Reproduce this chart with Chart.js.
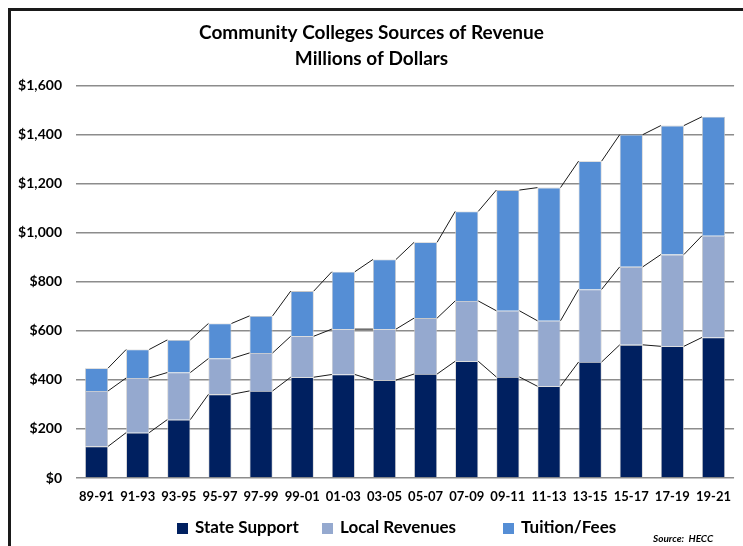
<!DOCTYPE html>
<html>
<head>
<meta charset="utf-8">
<script src="https://cdn.jsdelivr.net/npm/chart.js@4.4.1/dist/chart.umd.min.js"></script>
<style>
  html, body { margin: 0; padding: 0; background: #fff; overflow: hidden; }
  #wrap { position: relative; width: 743px; height: 546px; }
  #frame {
    position: absolute; left: 8px; top: 8px; width: 800px; height: 600px;
    border-left: 3px solid #1a1a1a; border-top: 3px solid #1a1a1a;
    pointer-events: none;
  }
  #chart { position: absolute; left: 0; top: 0; }
  #legend span.item {
    position: absolute; top: 516px; height: 22px; line-height: 22px;
    font: bold 17px Lato, "Liberation Sans", sans-serif; color: #000; white-space: nowrap;
  }
  #legend span.box {
    display: inline-block; width: 11px; height: 11px; margin-right: 7px; vertical-align: -1px;
  }
  #source {
    position: absolute; left: 653px; top: 532px;
    font: italic bold 10px Lato, "Liberation Sans", sans-serif; color: #000;
  }
</style>
</head>
<body>
<div id="wrap">
  <canvas id="chart" width="743" height="546"></canvas>
  <div id="frame"></div>
  <div id="legend"></div>
  <div id="source">Source:&nbsp; HECC</div>
</div>
<script>
// Biennia (fiscal two-year periods)
const biennia = ['89-91', '91-93', '93-95', '95-97', '97-99', '99-01', '01-03', '03-05',
                 '05-07', '07-09', '09-11', '11-13', '13-15', '15-17', '17-19', '19-21'];

// Revenue by source, millions of dollars
const stateSupport  = [129, 185, 238, 341, 355, 411, 422, 399, 424, 476, 412, 374, 473, 543, 537, 573];
const localRevenues = [226, 223, 192, 146, 155, 167, 185, 208, 228, 246, 270, 267, 296, 318, 374, 415];
const tuitionFees   = [ 93, 116, 133, 143, 151, 184, 234, 284, 309, 365, 492, 543, 523, 539, 526, 485];

const yTicks = [0, 200, 400, 600, 800, 1000, 1200, 1400, 1600];

const FONT = 'Lato, "Liberation Sans", sans-serif';

// left edge of each legend entry
const legendLeft = [177, 322, 503];

// Excel-style series lines: join the top of each segment to the same segment of the next bar
const seriesLines = {
  id: 'seriesLines',
  afterDatasetsDraw(chart) {
    const ctx = chart.ctx;
    ctx.save();
    ctx.strokeStyle = '#1a1a1a';
    ctx.lineWidth = 1;
    chart.data.datasets.forEach((ds, di) => {
      const bars = chart.getDatasetMeta(di).data;
      for (let i = 0; i < bars.length - 1; i++) {
        const a = bars[i], b = bars[i + 1];
        ctx.beginPath();
        ctx.moveTo(a.x + a.width / 2, a.y);
        ctx.lineTo(b.x - b.width / 2, b.y);
        ctx.stroke();
      }
    });
    ctx.restore();
  }
};

const chart = new Chart(document.getElementById('chart'), {
  type: 'bar',
  data: {
    labels: biennia,
    datasets: [
      { label: 'State Support',  data: stateSupport,  backgroundColor: '#002060' },
      { label: 'Local Revenues', data: localRevenues, backgroundColor: '#95A9CF' },
      { label: 'Tuition/Fees',   data: tuitionFees,   backgroundColor: '#558ED5' }
    ]
  },
  options: {
    responsive: false,
    animation: false,
    layout: { padding: { top: 0, right: 0, left: 0, bottom: 31 } },
    datasets: {
      bar: {
        categoryPercentage: 1,
        barPercentage: 0.56,
        borderColor: '#c8c8c8',
        borderWidth: 0.8
      }
    },
    plugins: {
      title: {
        display: true,
        text: 'Community Colleges Sources of Revenue',
        color: '#000',
        font: { family: FONT, size: 19, weight: 'bold', lineHeight: 1.2 },
        padding: { top: 21, bottom: 4 }
      },
      subtitle: {
        display: true,
        text: 'Millions of Dollars',
        color: '#000',
        font: { family: FONT, size: 19, weight: 'bold', lineHeight: 1.2 },
        padding: { top: 0, bottom: 15 }
      },
      legend: { display: false },
      tooltip: { enabled: false }
    },
    scales: {
      x: {
        stacked: true,
        grid: { display: false, drawTicks: false },
        border: { display: false },
        ticks: {
          color: '#000',
          font: { family: FONT, size: 13, weight: 'bold', lineHeight: 1 },
          padding: 12,
          maxRotation: 0,
          autoSkip: false
        }
      },
      y: {
        stacked: true,
        min: 0,
        max: 1600,
        afterBuildTicks(axis) { axis.ticks = yTicks.map(v => ({ value: v })); },
        afterFit(axis) { axis.width = 76; },
        grid: { color: '#8c8c8c', lineWidth: 1.5, drawTicks: false },
        border: { display: false },
        ticks: {
          color: '#000',
          font: { family: FONT, size: 14, weight: 'bold' },
          padding: 14,
          callback: v => '$' + v.toLocaleString('en-US')
        }
      }
    }
  },
  plugins: [seriesLines]
});

// Legend row below the axis, built from the datasets
const legendEl = document.getElementById('legend');
chart.data.datasets.forEach((ds, i) => {
  const item = document.createElement('span');
  item.className = 'item';
  item.style.left = legendLeft[i] + 'px';
  const box = document.createElement('span');
  box.className = 'box';
  box.style.background = ds.backgroundColor;
  item.appendChild(box);
  item.appendChild(document.createTextNode(ds.label));
  legendEl.appendChild(item);
});
</script>
</body>
</html>
